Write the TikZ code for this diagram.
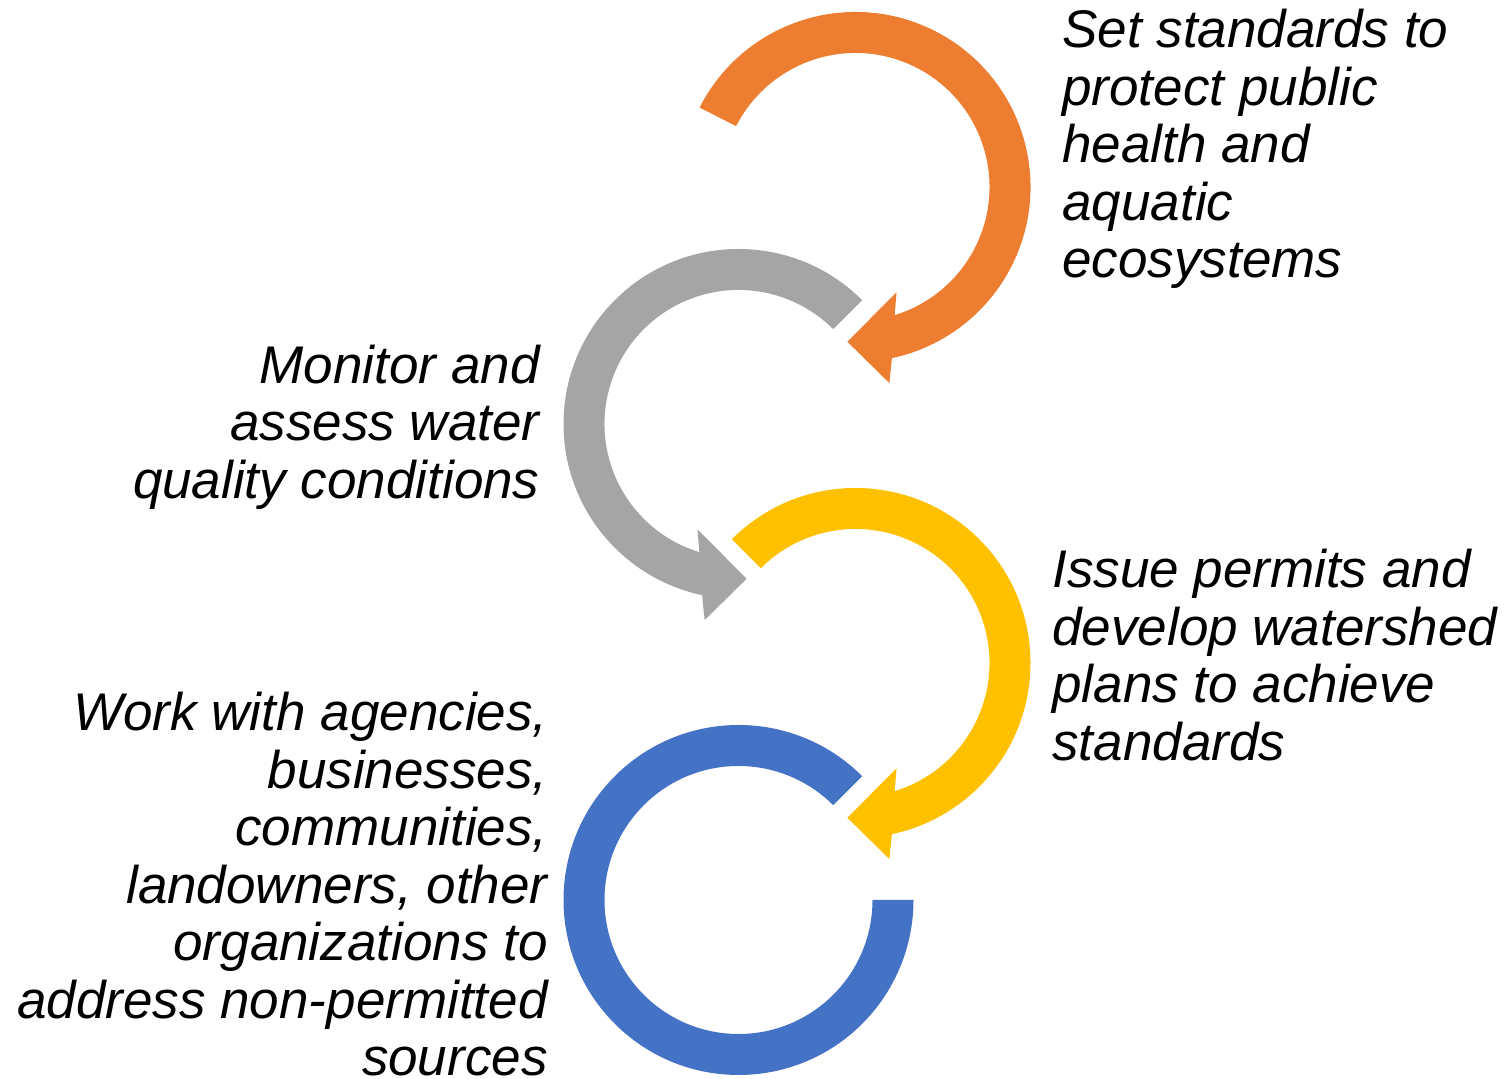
\documentclass[tikz,border=0pt]{standalone}
\usepackage{fontspec}
\setmainfont{Liberation Sans}
\usetikzlibrary{calc}
\definecolor{orng}{HTML}{ED7D31}
\definecolor{grey}{HTML}{A5A5A5}
\definecolor{gold}{HTML}{FFC000}
\definecolor{blu}{HTML}{4472C4}
\tikzset{
  ring/.style={draw=none},
  lab/.style={inner sep=0pt, text=black, font=\fontsize{26.5}{28.75}\selectfont\itshape},
  labl/.style={lab, anchor=base west, align=left},
  labr/.style={lab, anchor=base east, align=right},
}
\begin{document}
\begin{tikzpicture}[x=0.5pt, y=0.5pt]
  \useasboundingbox (0,0) rectangle (1510,1079);
  \coordinate (O1) at (855.5,892);
  \coordinate (O2) at (738.5,655);
  \coordinate (O3) at (855.5,416);
  \coordinate (O4) at (738.5,179);
  % clockwise rings with head at the bottom
  \fill[ring, orng] ($(O1)+(153:175)$) arc[start angle=153, end angle=-78, radius=175]
    -- ($(O1)+(-80.2:199)$) -- ($(O1)+(-93:155)$) -- ($(O1)+(-68.7:113)$)
    -- ($(O1)+(-73:134)$) arc[start angle=-73, end angle=153, radius=134] -- cycle;
  \fill[ring, gold] ($(O3)+(135:175)$) arc[start angle=135, end angle=-78, radius=175]
    -- ($(O3)+(-80.2:199)$) -- ($(O3)+(-93:155)$) -- ($(O3)+(-68.7:113)$)
    -- ($(O3)+(-73:134)$) arc[start angle=-73, end angle=135, radius=134] -- cycle;
  % counter-clockwise ring
  \fill[ring, grey] ($(O2)+(45:175)$) arc[start angle=45, end angle=258, radius=175]
    -- ($(O2)+(260.2:199)$) -- ($(O2)+(273:155)$) -- ($(O2)+(248.7:113)$)
    -- ($(O2)+(253:134)$) arc[start angle=253, end angle=45, radius=134] -- cycle;
  % last ring, no head
  \fill[ring, blu] ($(O4)+(45:175)$) arc[start angle=45, end angle=360, radius=175]
    -- ($(O4)+(0:134)$) arc[start angle=360, end angle=45, radius=134] -- cycle;
  % labels (anchored on the baseline of the last line)
  \node[labl] (set) at (1062,801) {Set standards to\\protect public\\health and\\aquatic\\ecosystems};
  \node[labr] (mon) at (540,580.5) {Monitor and\\assess water\\quality conditions};
  \node[labl] (iss) at (1052,318.5) {Issue permits and\\develop watershed\\plans to achieve\\standards};
  \node[labr] (wrk) at (548,3) {Work with agencies,\\businesses,\\communities,\\landowners, other\\organizations to\\address non-permitted\\sources};
\end{tikzpicture}
\end{document}
